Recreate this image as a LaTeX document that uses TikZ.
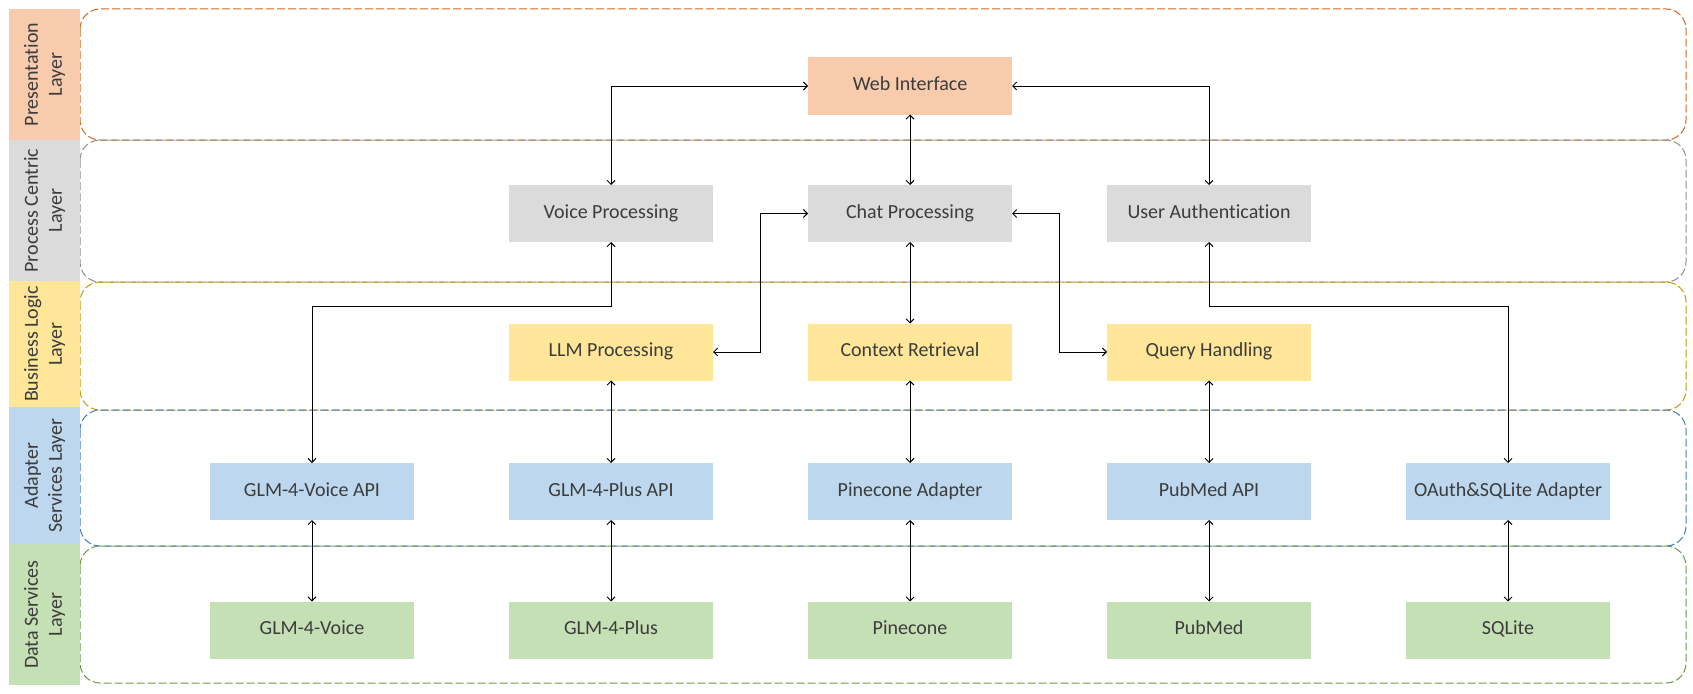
\documentclass[tikz,border=0pt]{standalone}
\usepackage{fontspec}
\setmainfont{Carlito}[Ligatures=NoCommon]
\usepackage{tikz}
\usetikzlibrary{arrows.meta,calc}

\definecolor{txtgray}{HTML}{3C3C3C}
\definecolor{presfill}{HTML}{F8CBAD}
\definecolor{procfill}{HTML}{DBDBDB}
\definecolor{bizfill}{HTML}{FFE699}
\definecolor{adaptfill}{HTML}{BDD7EE}
\definecolor{datafill}{HTML}{C5E0B4}
\definecolor{presline}{HTML}{D0691F}
\definecolor{procline}{HTML}{8F8F8F}
\definecolor{bizline}{HTML}{C99A06}
\definecolor{adaptline}{HTML}{3F7FBF}
\definecolor{dataline}{HTML}{6A9A48}

\tikzset{
  unit/.style={minimum width=204pt, minimum height=57pt, inner sep=0pt,
    outer sep=0pt, text=txtgray, text height=13pt, text depth=4pt},
  band/.style={rotate=90, minimum height=71pt, inner sep=0pt, outer sep=0pt,
    align=center, text=txtgray},
  layerline/.style={line width=1pt, dash pattern=on 8pt off 3pt,
    rounded corners=20pt},
  link/.style={<->, line width=0.9pt, black}
}

\begin{document}
\begin{tikzpicture}[x=1pt, y=-1pt, >={Straight Barb[length=4pt,width=8pt]}]

  \fontsize{20}{24}\selectfont

  \newcommand\X{299}
  \newcommand\XO{312}
  \newcommand\XL{80}
  \newcommand\XR{1686}

  \newcommand\YA{86}
  \newcommand\YB{213.5}
  \newcommand\YC{352}
  \newcommand\YD{491.5}
  \newcommand\YE{630}

  \useasboundingbox (0,0) rectangle (1693,693);

  % layer frames
  \draw[layerline, presline] (\XL, 9) rectangle (\XR, 140);
  \draw[layerline, procline] (\XL, 140) rectangle (\XR, 282);
  \draw[layerline, bizline] (\XL, 282) rectangle (\XR, 410);
  \draw[layerline, adaptline] (\XL, 410) rectangle (\XR, 546);
  \draw[layerline, dataline] (\XL, 546) rectangle (\XR, 683);

  % layer names
  \node[band, fill=presfill, minimum width=131pt] (lpres) at (44.5, 74.5)
  {Presentation\\Layer};
  \node[band, fill=procfill, minimum width=141pt] (lproc) at (44.5, 210.5)
  {Process Centric\\Layer};
  \node[band, fill=bizfill, minimum width=126pt] (lbiz) at (44.5, 344)
  {Business Logic\\Layer};
  \node[band, fill=adaptfill, minimum width=137pt] (ladapt) at (44.5, 475.5)
  {Adapter\\Services Layer};
  \node[band, fill=datafill, minimum width=141pt] (ldata) at (44.5, 614.5)
  {Data Services\\Layer};

  % presentation
  \node[unit, fill=presfill] (web) at (\XO + 2*\X, \YA) {Web Interface};

  % process centric
  \node[unit, fill=procfill] (voice) at (\XO + 1*\X, \YB) {Voice Processing};
  \node[unit, fill=procfill] (chat) at (\XO + 2*\X, \YB) {Chat Processing};
  \node[unit, fill=procfill] (auth) at (\XO + 3*\X, \YB) {User Authentication};

  % business logic
  \node[unit, fill=bizfill] (llm) at (\XO + 1*\X, \YC) {LLM Processing};
  \node[unit, fill=bizfill] (context) at (\XO + 2*\X, \YC) {Context Retrieval};
  \node[unit, fill=bizfill] (query) at (\XO + 3*\X, \YC) {Query Handling};

  % adapter services
  \node[unit, fill=adaptfill] (voiceapi) at (\XO + 0*\X, \YD) {GLM-4-Voice API};
  \node[unit, fill=adaptfill] (plusapi) at (\XO + 1*\X, \YD) {GLM-4-Plus API};
  \node[unit, fill=adaptfill] (pineadapt) at (\XO + 2*\X, \YD) {Pinecone Adapter};
  \node[unit, fill=adaptfill] (pubmedapi) at (\XO + 3*\X, \YD) {PubMed API};
  \node[unit, fill=adaptfill] (oauthadapt) at (\XO + 4*\X, \YD) {OAuth\&SQLite Adapter};

  % data services
  \node[unit, fill=datafill] (glmvoice) at (\XO + 0*\X, \YE) {GLM-4-Voice};
  \node[unit, fill=datafill] (glmplus) at (\XO + 1*\X, \YE) {GLM-4-Plus};
  \node[unit, fill=datafill] (pinecone) at (\XO + 2*\X, \YE) {Pinecone};
  \node[unit, fill=datafill] (pubmed) at (\XO + 3*\X, \YE) {PubMed};
  \node[unit, fill=datafill] (sqlite) at (\XO + 4*\X, \YE) {SQLite};

  \coordinate (bend) at (0, 306);

  \draw[link] (web.west) -| (voice.north);
  \draw[link] (web.east) -| (auth.north);
  \draw[link] (web.south) -- (chat.north);

  \draw[link] (voice.south) -- (voice.south |- bend) -| (voiceapi.north);
  \draw[link] (auth.south) -- (auth.south |- bend) -| (oauthadapt.north);
  \draw[link] (chat.west) -| ($(chat.west)!0.5!(llm.east)$) |- (llm.east);
  \draw[link] (chat.east) -| ($(chat.east)!0.5!(query.west)$) |- (query.west);
  \draw[link] (chat.south) -- (context.north);

  \draw[link] (llm.south) -- (plusapi.north);
  \draw[link] (context.south) -- (pineadapt.north);
  \draw[link] (query.south) -- (pubmedapi.north);

  \draw[link] (voiceapi.south) -- (glmvoice.north);
  \draw[link] (plusapi.south) -- (glmplus.north);
  \draw[link] (pineadapt.south) -- (pinecone.north);
  \draw[link] (pubmedapi.south) -- (pubmed.north);
  \draw[link] (oauthadapt.south) -- (sqlite.north);

\end{tikzpicture}
\end{document}
